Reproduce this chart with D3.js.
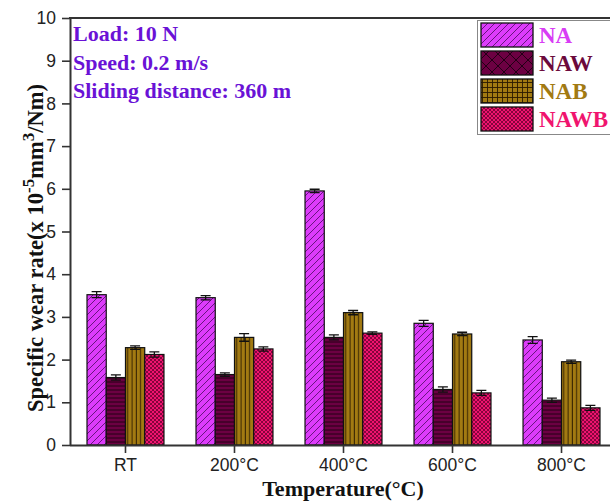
<!DOCTYPE html>
<html>
<head>
<meta charset="utf-8">
<script src="https://cdn.jsdelivr.net/npm/d3@7"></script>
<style>
  html, body { margin: 0; padding: 0; background: #fff; }
  svg { display: block; }
</style>
</head>
<body>
<svg id="chart" width="610" height="502"></svg>
<script>
// Specific wear rate by test temperature for four materials
const categories = ["RT", "200°C", "400°C", "600°C", "800°C"];
const seriesNames = ["NA", "NAW", "NAB", "NAWB"];
const naValues   = [3.52, 3.45, 5.95, 2.85, 2.46];
const nawValues  = [1.58, 1.65, 2.52, 1.30, 1.05];
const nabValues  = [2.28, 2.52, 3.10, 2.60, 1.95];
const nawbValues = [2.12, 2.25, 2.62, 1.22, 0.87];
const naErr   = [0.07, 0.05, 0.04, 0.07, 0.08];
const nawErr  = [0.06, 0.04, 0.06, 0.06, 0.05];
const nabErr  = [0.04, 0.09, 0.05, 0.04, 0.04];
const nawbErr = [0.06, 0.05, 0.03, 0.06, 0.06];
const yTicks = [0, 1, 2, 3, 4, 5, 6, 7, 8, 9, 10];
const notes = ["Load: 10 N", "Speed: 0.2 m/s", "Sliding distance: 360 m"];

const seriesValues = [naValues, nawValues, nabValues, nawbValues];
const seriesErrors = [naErr, nawErr, nabErr, nawbErr];
const fills = ["#dd3cfb", "#6c0042", "#a27a12", "#f1146f"];
const labelColors = ["#d83cf5", "#6c0a3c", "#a27a12", "#f0146e"];
const serif = "Liberation Serif, Times New Roman, serif";

const svg = d3.select("#chart");
const plotTop = 18, plotBottom = 445, plotLeft = 70, plotRight = 612;

const x = d3.scaleBand().domain(categories).range([plotLeft, 617]).paddingInner(0.294).paddingOuter(0.156);
const xs = d3.scaleBand().domain(seriesNames).range([0, x.bandwidth()]);
const y = d3.scaleLinear().domain([0, 10]).range([plotBottom, plotTop]);

// Hatch patterns
const defs = svg.append("defs");
function pattern(id, size, bg, draw) {
  const p = defs.append("pattern").attr("id", id).attr("patternUnits", "userSpaceOnUse")
    .attr("width", size).attr("height", size);
  p.append("rect").attr("width", size).attr("height", size).attr("fill", bg);
  draw(p);
}
pattern("pNA", 7, fills[0], p => {
  p.append("path").attr("d", "M-1,8 L8,-1 M-2,2 L2,-2 M5,9 L9,5").attr("stroke", "#5a1070").attr("stroke-width", 0.9);
});
pattern("pNAW", 4, fills[1], p => {
  p.append("path").attr("d", "M0,2 L4,2").attr("stroke", "#1a0010").attr("stroke-width", 0.9);
});
pattern("pNAWleg", 12, fills[1], p => {
  p.append("path").attr("d", "M0,0 L12,12 M12,0 L0,12").attr("stroke", "#1a0010").attr("stroke-width", 0.9);
});
pattern("pNAB", 4.3, fills[2], p => {
  p.append("path").attr("d", "M2,0 L2,4.3").attr("stroke", "#2a1a00").attr("stroke-width", 0.9);
});
pattern("pNABleg", 5, fills[2], p => {
  p.append("path").attr("d", "M2.5,0 L2.5,5 M0,2.5 L5,2.5").attr("stroke", "#2a1a00").attr("stroke-width", 0.9);
});
pattern("pNAWB", 4, fills[3], p => {
  p.append("path").attr("d", "M0,0 L4,4 M4,0 L0,4").attr("stroke", "#6a0030").attr("stroke-width", 0.8);
});
const barFill = ["url(#pNA)", "url(#pNAW)", "url(#pNAB)", "url(#pNAWB)"];
const legFill = ["url(#pNA)", "url(#pNAWleg)", "url(#pNABleg)", "url(#pNAWB)"];

// Bars with error bars
const groups = svg.append("g").selectAll("g").data(categories).join("g")
  .attr("transform", d => `translate(${x(d)},0)`);
seriesNames.forEach((s, si) => {
  groups.append("rect")
    .attr("x", xs(s))
    .attr("width", xs.bandwidth())
    .attr("y", (d, i) => y(seriesValues[si][i]))
    .attr("height", (d, i) => plotBottom - y(seriesValues[si][i]))
    .attr("fill", barFill[si])
    .attr("stroke", "#111").attr("stroke-width", 1.2);
  const cx = xs(s) + xs.bandwidth() / 2;
  groups.append("path")
    .attr("stroke", "#111").attr("stroke-width", 1.3).attr("fill", "none")
    .attr("d", (d, i) => {
      const v = seriesValues[si][i], e = seriesErrors[si][i];
      const t = y(v + e), b = y(v - e);
      return `M${cx},${t}L${cx},${b}M${cx - 5},${t}L${cx + 5},${t}M${cx - 5},${b}L${cx + 5},${b}`;
    });
});

// Axes
const axisColor = "#333";
const xAxis = svg.append("g").attr("transform", `translate(0,${plotBottom})`)
  .call(d3.axisBottom(x).tickSize(8).tickSizeOuter(0).tickPadding(6));
xAxis.select(".domain").attr("d", `M${plotLeft},0.5H${plotRight}`);
const yAxis = svg.append("g").attr("transform", `translate(${plotLeft},0)`)
  .call(d3.axisLeft(y).tickValues(yTicks).tickFormat(d3.format("d")).tickSize(8).tickSizeOuter(0).tickPadding(6));
[xAxis, yAxis].forEach(a => {
  a.selectAll(".domain").attr("stroke", axisColor).attr("stroke-width", 2);
  a.selectAll(".tick line").attr("stroke", axisColor).attr("stroke-width", 1.6);
  a.selectAll(".tick text").attr("fill", "#222").attr("font-family", "Liberation Sans, Arial, sans-serif").attr("font-size", 17.5);
});
// Top frame
svg.append("line").attr("x1", plotLeft - 1).attr("x2", plotRight).attr("y1", plotTop).attr("y2", plotTop)
  .attr("stroke", axisColor).attr("stroke-width", 2);

// Test conditions
svg.append("g").selectAll("text").data(notes).join("text")
  .attr("x", 73).attr("y", (d, i) => 41 + i * 28.5)
  .attr("fill", "#6a12d6").attr("font-family", serif)
  .attr("font-weight", "bold").attr("font-size", 22).text(d => d);

// Legend
const leg = svg.append("g");
leg.append("rect").attr("x", 477.5).attr("y", 20.5).attr("width", 140).attr("height", 114)
  .attr("fill", "#fff").attr("stroke", "#888").attr("stroke-width", 1);
seriesNames.forEach((s, i) => {
  const yy = 23 + i * 28;
  leg.append("rect").attr("x", 481).attr("y", yy).attr("width", 52).attr("height", 24)
    .attr("fill", legFill[i]).attr("stroke", "#111").attr("stroke-width", 1.3);
  leg.append("text").attr("x", 539).attr("y", yy + 20).attr("fill", labelColors[i])
    .attr("font-family", serif).attr("font-weight", "bold")
    .attr("font-size", 23).text(s);
});

// Axis titles
const yTitle = svg.append("text")
  .attr("transform", "translate(43,248) rotate(-90)")
  .attr("text-anchor", "middle").attr("fill", "#111")
  .attr("font-family", serif).attr("font-weight", "bold").attr("font-size", 22.5);
yTitle.append("tspan").text("Specific wear rate(x 10");
yTitle.append("tspan").attr("dy", -9).attr("font-size", 17).text("-5");
yTitle.append("tspan").attr("dy", 9).text("mm");
yTitle.append("tspan").attr("dy", -9).attr("font-size", 17).text("3");
yTitle.append("tspan").attr("dy", 9).text("/Nm)");

svg.append("text").attr("x", 343).attr("y", 496).attr("text-anchor", "middle").attr("fill", "#111")
  .attr("font-family", serif).attr("font-weight", "bold")
  .attr("font-size", 22).text("Temperature(°C)");
</script>
</body>
</html>
